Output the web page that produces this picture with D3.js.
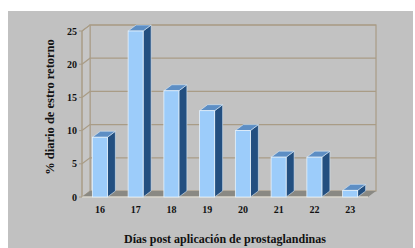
<!DOCTYPE html>
<html>
<head>
<meta charset="utf-8">
<script src="https://cdn.jsdelivr.net/npm/d3@7"></script>
<style>
  body { margin: 0; background: #ffffff; }
  text { font-family: "Liberation Serif", "DejaVu Serif", serif; font-weight: bold; fill: #111; }
</style>
</head>
<body>
<div class="chart"></div>
<script>
var width = 415, height = 248;

var dias = ["16", "17", "18", "19", "20", "21", "22", "23"];
var retorno = [9, 25, 16, 13, 10, 6, 6, 1];
var yTicks = [0, 5, 10, 15, 20, 25];

var xTitle = "Días post aplicación de prostaglandinas";
var yTitle = "% diario de estro retorno";

// 3d depth offset
var dx = 8, dy = -6;

var svg = d3.select(".chart")
    .append("svg")
    .attr("width", width)
    .attr("height", height);

// grey panel
svg.append("rect")
    .attr("x", 8).attr("y", 11)
    .attr("width", 405).attr("height", height - 11)
    .attr("fill", "#c1c1c1");

var xScale = d3.scaleBand()
    .domain(dias)
    .range([82, 368])
    .paddingInner(0.58)
    .paddingOuter(0.29);

var yScale = d3.scaleLinear()
    .domain([0, 25])
    .range([197, 31]);

var x0 = xScale.range()[0], x1 = xScale.range()[1];
var y0 = yScale(0), yTop = yScale(25);
var wallColor = "#a99c86";

// back wall
svg.append("rect")
    .attr("x", x0 + dx).attr("y", yTop + dy)
    .attr("width", x1 - x0).attr("height", y0 - yTop)
    .attr("fill", "#c2c2c2")
    .attr("stroke", wallColor)
    .attr("stroke-width", 1.2);

// side wall
svg.append("path")
    .attr("d", "M" + x0 + "," + y0 + "L" + x0 + "," + yTop +
        "L" + (x0 + dx) + "," + (yTop + dy) + "L" + (x0 + dx) + "," + (y0 + dy) + "Z")
    .attr("fill", "#c6c6c6")
    .attr("stroke", wallColor)
    .attr("stroke-width", 1);

// gridlines
yTicks.forEach(function(t) {
    if (t === 0) return;
    var y = yScale(t);
    svg.append("path")
        .attr("d", "M" + x0 + "," + y + "L" + (x0 + dx) + "," + (y + dy) + "L" + (x1 + dx) + "," + (y + dy))
        .attr("fill", "none")
        .attr("stroke", wallColor)
        .attr("stroke-width", 1.2);
});

// floor
svg.append("path")
    .attr("d", "M" + x0 + "," + y0 + "L" + x1 + "," + y0 +
        "L" + (x1 + dx) + "," + (y0 + dy) + "L" + (x0 + dx) + "," + (y0 + dy) + "Z")
    .attr("fill", "#8a8983");
svg.append("line")
    .attr("x1", x0).attr("x2", x1)
    .attr("y1", y0).attr("y2", y0)
    .attr("stroke", "#d8d6cc")
    .attr("stroke-width", 1.5);

// y axis
svg.append("line")
    .attr("x1", x0).attr("x2", x0)
    .attr("y1", y0).attr("y2", yTop)
    .attr("stroke", "#a89c86");
svg.selectAll(".ytick")
    .data(yTicks)
    .enter().append("line")
    .attr("class", "ytick")
    .attr("x1", x0 - 3).attr("x2", x0)
    .attr("y1", function(d) { return yScale(d); })
    .attr("y2", function(d) { return yScale(d); })
    .attr("stroke", "#a89c86");
svg.selectAll(".ylabel")
    .data(yTicks)
    .enter().append("text")
    .attr("class", "ylabel")
    .attr("x", x0 - 5)
    .attr("y", function(d) { return yScale(d) + 3.5; })
    .attr("text-anchor", "end")
    .attr("font-size", "10px")
    .text(function(d) { return d; });

// bars
var bw = xScale.bandwidth();
var bars = svg.selectAll(".bar")
    .data(retorno)
    .enter().append("g")
    .attr("class", "bar");

bars.append("path")
    .attr("d", function(d, i) {
        var x = xScale(dias[i]) + bw, y = yScale(d);
        return "M" + x + "," + y0 + "L" + x + "," + y + "L" + (x + dx) + "," + (y + dy) +
            "L" + (x + dx) + "," + (y0 + dy) + "Z";
    })
    .attr("fill", "#234f80")
    .attr("stroke", "#d9e8f5")
    .attr("stroke-width", 0.6);

bars.append("path")
    .attr("d", function(d, i) {
        var x = xScale(dias[i]), y = yScale(d);
        return "M" + x + "," + y + "L" + (x + bw) + "," + y + "L" + (x + bw + dx) + "," + (y + dy) +
            "L" + (x + dx) + "," + (y + dy) + "Z";
    })
    .attr("fill", "#5d8ec4")
    .attr("stroke", "#d9e8f5")
    .attr("stroke-width", 0.6);

bars.append("rect")
    .attr("x", function(d, i) { return xScale(dias[i]); })
    .attr("y", function(d) { return yScale(d); })
    .attr("width", bw)
    .attr("height", function(d) { return y0 - yScale(d); })
    .attr("fill", "#9cccfa")
    .attr("stroke", "#e6f2fc")
    .attr("stroke-width", 0.8);

// x labels
svg.selectAll(".xlabel")
    .data(dias)
    .enter().append("text")
    .attr("class", "xlabel")
    .attr("x", function(d) { return xScale(d) + bw / 2; })
    .attr("y", 213)
    .attr("text-anchor", "middle")
    .attr("font-size", "10px")
    .text(function(d) { return d; });

svg.append("text")
    .attr("x", 225)
    .attr("y", 243)
    .attr("text-anchor", "middle")
    .attr("font-size", "12px")
    .text(xTitle);

svg.append("text")
    .attr("transform", "translate(54,107) rotate(-90)")
    .attr("text-anchor", "middle")
    .attr("font-size", "12.5px")
    .text(yTitle);
</script>
</body>
</html>
